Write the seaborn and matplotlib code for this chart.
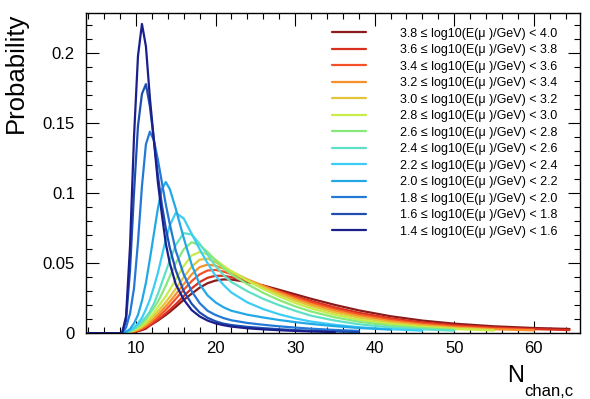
import numpy as np
import pandas as pd
import seaborn as sns
import matplotlib.pyplot as plt
from matplotlib.ticker import MultipleLocator, FuncFormatter

# ROOT-like look: plain white, Helvetica-ish font
sns.set_style('white')
plt.rcParams['font.family'] = ['Liberation Sans', 'DejaVu Sans']
plt.rcParams['text.color'] = 'black'
plt.rcParams['axes.labelcolor'] = 'black'
plt.rcParams['xtick.color'] = 'black'
plt.rcParams['ytick.color'] = 'black'

N = np.nan

# Channel count grid (x) shared by all curves
n_chan = [4, 8.25, 8.75, 9.25, 9.75, 10.25, 10.75, 11.25, 11.75, 12.25, 12.75, 13.25, 13.75, 14.25,
          15, 16, 17, 18, 19, 20, 21, 22, 24, 26, 28, 30, 32, 35, 38, 42, 46, 50, 55, 60, 64.5]

# Energy bins in log10(E/GeV)
bin_low = [1.4, 1.6, 1.8, 2.0, 2.2, 2.4, 2.6, 2.8, 3.0, 3.2, 3.4, 3.6, 3.8]
bin_high = [1.6, 1.8, 2.0, 2.2, 2.4, 2.6, 2.8, 3.0, 3.2, 3.4, 3.6, 3.8, 4.0]

# Probability per bin
p_14_16 = [0, 0, 0.012, 0.062, 0.14, 0.198, 0.221, 0.205, 0.168, 0.138, 0.108, 0.085, 0.064, 0.050,
           0.035, 0.024, 0.0165, 0.012, 0.009, 0.007, 0.0057, 0.0047, 0.0035, 0.0027, 0.0021, 0.0016, 0.0012,
           0.0008, N, N, N, N, N, N, N]
p_16_18 = [0, 0, 0.009, 0.045, 0.10, 0.148, 0.171, 0.178, 0.162, 0.138, 0.113, 0.092, 0.075, 0.061,
           0.045, 0.030, 0.021, 0.0148, 0.011, 0.0085, 0.0068, 0.0058, 0.0045, 0.0036, 0.0028, 0.0022, 0.0017,
           0.0012, 0.0008, N, N, N, N, N, N]
p_18_20 = [0, 0, 0.004, 0.014, 0.032, 0.065, 0.105, 0.135, 0.144, 0.138, 0.124, 0.108, 0.092, 0.078,
           0.059, 0.042, 0.030, 0.0215, 0.016, 0.013, 0.0108, 0.0092, 0.0073, 0.006, 0.0049, 0.004, 0.0032,
           0.0023, 0.0016, N, N, N, N, N, N]
p_20_22 = [0, 0, 0.001, 0.003, 0.007, 0.013, 0.023, 0.036, 0.053, 0.071, 0.089, 0.103, 0.108, 0.103,
           0.089, 0.068, 0.049, 0.035, 0.027, 0.022, 0.0185, 0.016, 0.0132, 0.0112, 0.0094, 0.0079, 0.0066,
           0.005, 0.0037, 0.0025, N, N, N, N, N]
p_22_24 = [0, 0, 0.001, 0.002, 0.004, 0.007, 0.011, 0.017, 0.024, 0.033, 0.043, 0.055, 0.067, 0.077,
           0.086, 0.082, 0.071, 0.060, 0.050, 0.041, 0.0345, 0.029, 0.022, 0.0172, 0.0135, 0.0106, 0.0083,
           0.006, 0.0043, 0.0028, 0.0018, N, N, N, N]
p_24_26 = [0, 0, 0.0008, 0.0018, 0.0033, 0.0055, 0.0085, 0.0115, 0.0155, 0.021, 0.028, 0.036, 0.044, 0.052,
           0.063, 0.0715, 0.0705, 0.064, 0.056, 0.048, 0.0415, 0.0365, 0.030, 0.0245, 0.020, 0.016, 0.0125,
           0.009, 0.0064, 0.0041, 0.0027, 0.0018, N, N, N]
p_26_28 = [0, 0, 0.0006, 0.0014, 0.0026, 0.0044, 0.0068, 0.0100, 0.0140, 0.0180, 0.0225, 0.0280, 0.0340, 0.0405,
           0.0500, 0.0600, 0.0650, 0.0630, 0.0580, 0.0520, 0.0465, 0.0420, 0.0350, 0.0288, 0.0236, 0.0192, 0.0155,
           0.0113, 0.0082, 0.0054, 0.0036, 0.0024, N, N, N]
p_28_30 = [0, 0, 0.0005, 0.0011, 0.0021, 0.0035, 0.0054, 0.0079, 0.0110, 0.0145, 0.0185, 0.0225, 0.0265, 0.0310,
           0.0385, 0.0480, 0.0555, 0.0580, 0.0565, 0.0525, 0.0482, 0.0442, 0.0375, 0.0315, 0.0262, 0.0216, 0.0177,
           0.0131, 0.0097, 0.0065, 0.0044, 0.0030, 0.0019, N, N]
p_30_32 = [0, 0, 0.0004, 0.0009, 0.0017, 0.0029, 0.0045, 0.0066, 0.0092, 0.0122, 0.0155, 0.0188, 0.0222, 0.0258,
           0.0318, 0.0400, 0.0475, 0.0525, 0.0532, 0.0508, 0.0475, 0.0442, 0.0382, 0.0328, 0.0278, 0.0233, 0.0194,
           0.0147, 0.0111, 0.0076, 0.0052, 0.0036, 0.0023, N, N]
p_32_34 = [0, 0, 0.0003, 0.0008, 0.0014, 0.0024, 0.0038, 0.0056, 0.0078, 0.0104, 0.0132, 0.0162, 0.0193, 0.0225,
           0.0278, 0.0350, 0.0420, 0.0472, 0.0490, 0.0482, 0.0462, 0.0437, 0.0385, 0.0337, 0.0290, 0.0246, 0.0207,
           0.0160, 0.0123, 0.0086, 0.0060, 0.0042, 0.0028, 0.0020, N]
p_34_36 = [0, 0, 0.0003, 0.0007, 0.0012, 0.0020, 0.0032, 0.0048, 0.0067, 0.0089, 0.0114, 0.0140, 0.0168, 0.0197,
           0.0245, 0.0310, 0.0372, 0.0420, 0.0448, 0.0452, 0.0440, 0.0422, 0.0380, 0.0338, 0.0296, 0.0256, 0.0219,
           0.0172, 0.0134, 0.0096, 0.0068, 0.0049, 0.0033, 0.0024, N]
p_36_38 = [0, 0, 0.0002, 0.0006, 0.0010, 0.0017, 0.0027, 0.0040, 0.0056, 0.0075, 0.0096, 0.0118, 0.0142, 0.0167,
           0.0207, 0.0265, 0.0320, 0.0365, 0.0396, 0.0410, 0.0410, 0.0400, 0.0370, 0.0336, 0.0300, 0.0264, 0.0230,
           0.0184, 0.0146, 0.0106, 0.0077, 0.0057, 0.0040, 0.0029, 0.0022]
p_38_40 = [0, 0, 0.0002, 0.0005, 0.0009, 0.0014, 0.0022, 0.0033, 0.0055, 0.0072, 0.0090, 0.0110, 0.0130, 0.0152,
           0.0188, 0.0238, 0.0282, 0.0325, 0.0357, 0.0376, 0.0384, 0.0383, 0.0366, 0.0341, 0.0310, 0.0278, 0.0246,
           0.0202, 0.0163, 0.0121, 0.0090, 0.0068, 0.0049, 0.0037, 0.0030]

probs = [p_14_16, p_16_18, p_18_20, p_20_22, p_22_24, p_24_26, p_26_28,
         p_28_30, p_30_32, p_32_34, p_34_36, p_36_38, p_38_40]

# navy -> dark red, like ROOT's rainbow palette
colors = ['#1a1f8c', '#1e4fb0', '#2478d6', '#22a8e6', '#3ccdf5', '#5ee0c8', '#88e87a',
          '#c8ec48', '#e3c43a', '#f7902a', '#f5502a', '#d9301e', '#8b1a1a']

labels = [f'{lo:.1f} \u2264 log10(E(\u03bc )/GeV) < {hi:.1f}' for lo, hi in zip(bin_low, bin_high)]

frames = []
for lab, p in zip(labels, probs):
    frames.append(pd.DataFrame({'n_chan': n_chan, 'prob': p, 'bin': lab}))
df = pd.concat(frames, ignore_index=True).dropna()

fig = plt.figure(figsize=(5.9, 3.99), dpi=100)
ax = fig.add_axes([0.1458, 0.165, 0.837, 0.803])

# red drawn first, blue on top; legend lists red at the top
order = labels[::-1]
sns.lineplot(data=df, x='n_chan', y='prob', hue='bin', hue_order=order,
             palette=dict(zip(labels, colors)), estimator=None, lw=1.6, ax=ax)

ax.set_xlim(3.72, 65.8)
ax.set_ylim(0, 0.229)

ax.xaxis.set_major_locator(MultipleLocator(10))
ax.xaxis.set_minor_locator(MultipleLocator(2))
ax.yaxis.set_major_locator(MultipleLocator(0.05))
ax.yaxis.set_minor_locator(MultipleLocator(0.01))
ax.yaxis.set_major_formatter(FuncFormatter(lambda v, pos: f'{v:g}'))
ax.tick_params(which='both', direction='in', bottom=True, left=True, top=True, right=True,
               color='black', width=0.8, labelsize=12)
ax.tick_params(which='major', length=9)
ax.tick_params(which='minor', length=4.5)
ax.tick_params(axis='y', pad=8)
ax.tick_params(axis='x', pad=6)
for s in ax.spines.values():
    s.set_color('black')
    s.set_linewidth(1.0)

ax.set_xlabel('')
ax.set_ylabel('Probability', fontsize=18.5, loc='top')
ax.yaxis.set_label_coords(-0.118, 1.0)

# x title with ROOT-style subscript
fig.text(507 / 590, 1 - 382 / 399, 'N', fontsize=17, ha='left', va='baseline')
fig.text(524 / 590, 1 - 396 / 399, 'chan,c', fontsize=12, ha='left', va='baseline')

handles, labs = ax.get_legend_handles_labels()
ax.legend(handles, labs, loc='upper left', bbox_to_anchor=(0.486, 0.973), frameon=False,
          fontsize=9, handlelength=2.7, handletextpad=2.7, labelspacing=0.36, borderpad=0)

fig.savefig('out.png', dpi=100)
